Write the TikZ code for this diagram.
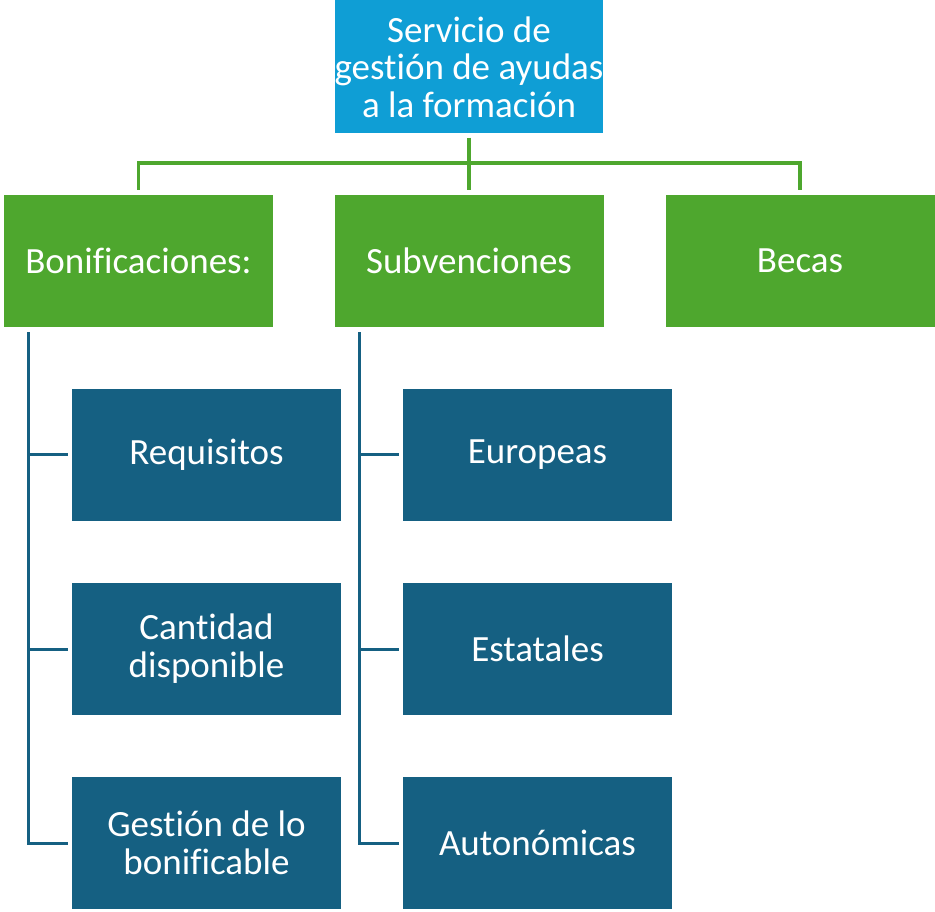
\documentclass[tikz,border=0pt]{standalone}
\usepackage{fontspec}
\setmainfont{Carlito}[Ligatures=NoCommon]
\definecolor{lblue}{HTML}{0F9ED5}
\definecolor{dgreen}{HTML}{4EA72E}
\definecolor{dblue}{HTML}{156082}
\begin{document}
\begin{tikzpicture}
	[x=1pt,y=-1pt,
	 top/.style={fill=lblue,text=white,minimum width=268pt,minimum height=133pt,align=center,inner sep=0pt,font=\fontsize{37}{37.5}\selectfont},
	 cat/.style={fill=dgreen,text=white,minimum width=269pt,minimum height=132pt,align=center,inner sep=0pt,font=\fontsize{37}{37.5}\selectfont},
	 item/.style={fill=dblue,text=white,minimum width=269pt,minimum height=132pt,align=center,inner sep=0pt,font=\fontsize{37}{38}\selectfont},
	 gline/.style={dgreen,line width=3.5pt},
	 bline/.style={dblue,line width=3pt}]
    \useasboundingbox (0,0) rectangle (935,912);
    \node[top] (S) at (469,67) {Servicio de\\gestión de ayudas\\a la formación};

    \node[cat] (B) at (138.5,261) {Bonificaciones:};
    \node[cat] (U) at (469,261) {Subvenciones};
    \node[cat] (K) at (800,261) {Becas};

    \node[item] (B1) at (206.5,454.5) {Requisitos};
    \node[item] (B2) at (206.5,649) {Cantidad\\disponible};
    \node[item] (B3) at (206.5,843) {Gestión de lo\\bonificable};
    \node[item] (U1) at (537.5,454.5) {Europeas};
    \node[item] (U2) at (537.5,649) {Estatales};
    \node[item] (U3) at (537.5,843) {Autonómicas};

    \draw[gline] ([yshift=-4pt]S.south) -- ([yshift=5pt]U.north);
    \draw[gline] ([yshift=5pt]B.north) |- (469,163) -| ([yshift=5pt]K.north);

    \draw[bline] ([xshift=25pt,yshift=-5pt]B.south west) |- ([xshift=-4pt]B1.west);
    \draw[bline] ([xshift=25pt,yshift=-5pt]B.south west) |- ([xshift=-4pt]B2.west);
    \draw[bline] ([xshift=25pt,yshift=-5pt]B.south west) |- ([xshift=-4pt]B3.west);
    \draw[bline] ([xshift=25pt,yshift=-5pt]U.south west) |- ([xshift=-4pt]U1.west);
    \draw[bline] ([xshift=25pt,yshift=-5pt]U.south west) |- ([xshift=-4pt]U2.west);
    \draw[bline] ([xshift=25pt,yshift=-5pt]U.south west) |- ([xshift=-4pt]U3.west);

\end{tikzpicture}
\end{document}
